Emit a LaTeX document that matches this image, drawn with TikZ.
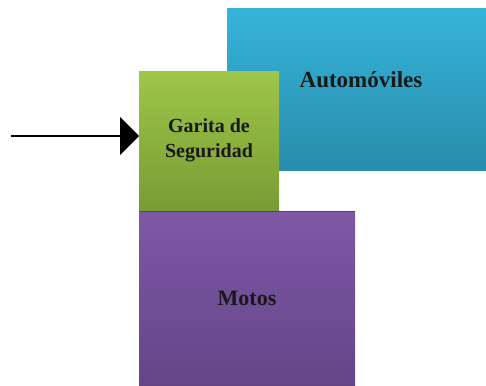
\documentclass[tikz,border=0pt]{standalone}
\usepackage{fontspec}
\setmainfont{Liberation Serif}
\usetikzlibrary{arrows.meta}
\begin{document}
\begin{tikzpicture}[x=1pt,y=-1pt,
  boxlbl/.style={text=black!90}]
\useasboundingbox (0,0) rectangle (486,385);
% blue box
\shade[top color={rgb,255:red,53;green,180;blue,217}, bottom color={rgb,255:red,40;green,140;blue,170}]
  (227,9) rectangle (486,170);
\node[boxlbl, font=\bfseries\fontsize{23}{26}\selectfont] (auto) at (361,80) {Automóviles};
% green box
\shade[top color={rgb,255:red,158;green,198;blue,72}, bottom color={rgb,255:red,120;green,155;blue,52}]
  (139,72) rectangle (279,211);
\node[boxlbl, font=\bfseries\fontsize{20}{25}\selectfont, align=center] (gar) at (209,140) {Garita de\\Seguridad};
\coordinate (garw) at (139,136);
% purple box
\shade[top color={rgb,255:red,126;green,88;blue,166}, bottom color={rgb,255:red,100;green,70;blue,135}]
  (139,211) rectangle (355,385);
\draw[line width=0.8pt, black!70] (139,211) -- (355,211);
\node[boxlbl, font=\bfseries\fontsize{22}{26}\selectfont] (motos) at (247,298) {Motos};
% arrow
\coordinate (start) at (11,136);
\draw[line width=1.6pt, -{Triangle[length=19pt,width=38pt]}] (start) -- (garw);
\end{tikzpicture}
\end{document}
